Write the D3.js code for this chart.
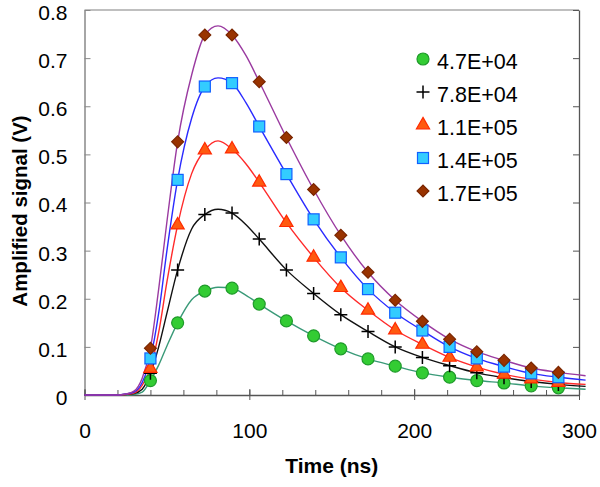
<!DOCTYPE html>
<html>
<head>
<meta charset="utf-8">
<script src="https://cdn.jsdelivr.net/npm/d3@7"></script>
<style>
  body { margin: 0; background: #fff; }
  svg { display: block; font-family: "Liberation Sans", Arial, sans-serif; }
</style>
</head>
<body>
<svg id="chart" width="600" height="487"></svg>
<script>
// time samples (ns) used to trace each curve
var lineTimes = [0, 20, 25, 30, 35, 40, 45, 50, 56.5, 65, 73, 81, 89.5, 98, 106, 122.5, 139, 155.5, 172, 188.5, 205, 221.5, 238, 254.5, 271, 287.5, 304];
// marker positions (ns), subset of lineTimes
var markerTimes = [40, 56.5, 73, 89.5, 106, 122.5, 139, 155.5, 172, 188.5, 205, 221.5, 238, 254.5, 271, 287.5];

var labels = ['4.7E+04', '7.8E+04', '1.1E+05', '1.4E+05', '1.7E+05'];

var sig47 = [0, 0, 0, 0.001, 0.006, 0.030, 0.062, 0.102, 0.150, 0.198, 0.216, 0.224, 0.222, 0.207, 0.189, 0.154, 0.123, 0.096, 0.075, 0.060, 0.046, 0.037, 0.030, 0.025, 0.019, 0.015, 0.012];
var sig78 = [0, 0, 0.001, 0.003, 0.012, 0.045, 0.100, 0.170, 0.260, 0.345, 0.375, 0.386, 0.378, 0.354, 0.324, 0.260, 0.211, 0.167, 0.132, 0.100, 0.078, 0.061, 0.046, 0.036, 0.028, 0.022, 0.018];
var sig11 = [0, 0, 0.001, 0.004, 0.020, 0.055, 0.130, 0.235, 0.353, 0.460, 0.509, 0.528, 0.511, 0.480, 0.442, 0.358, 0.286, 0.223, 0.176, 0.135, 0.105, 0.078, 0.058, 0.043, 0.033, 0.026, 0.022];
var sig14 = [0, 0, 0.002, 0.006, 0.026, 0.076, 0.170, 0.300, 0.447, 0.575, 0.641, 0.659, 0.648, 0.607, 0.558, 0.459, 0.365, 0.286, 0.220, 0.171, 0.134, 0.100, 0.076, 0.059, 0.045, 0.037, 0.031];
var sig17 = [0, 0, 0.002, 0.008, 0.035, 0.097, 0.220, 0.360, 0.526, 0.665, 0.748, 0.767, 0.748, 0.705, 0.651, 0.535, 0.427, 0.332, 0.255, 0.197, 0.153, 0.116, 0.090, 0.072, 0.056, 0.047, 0.040];

var xTicks = [0, 100, 200, 300];
var yTicks = [0, 0.1, 0.2, 0.3, 0.4, 0.5, 0.6, 0.7, 0.8];

var plotLeft = 84.5, plotRight = 579, plotTop = 10, plotBottom = 395;

var series = [
    { name: labels[0], vals: sig47, line: '#3a9a78', fill: '#33cc33', stroke: '#1f9a2a', shape: 'circle' },
    { name: labels[1], vals: sig78, line: '#111', fill: 'none', stroke: '#000', shape: 'plus' },
    { name: labels[2], vals: sig11, line: '#ff2a2a', fill: '#ff5a10', stroke: '#ff2a00', shape: 'triangle' },
    { name: labels[3], vals: sig14, line: '#2a2aff', fill: '#33ccff', stroke: '#1060ff', shape: 'square' },
    { name: labels[4], vals: sig17, line: '#9a3aa0', fill: '#993300', stroke: '#7a2600', shape: 'diamond' }
];

var svg = d3.select('#chart');
var x = d3.scaleLinear().domain([0, 300]).range([plotLeft, plotRight]);
var y = d3.scaleLinear().domain([0, 0.8]).range([plotBottom, plotTop]);

// frame: top border
svg.append('line')
    .attr('x1', plotLeft).attr('x2', plotRight).attr('y1', plotTop).attr('y2', plotTop)
    .attr('stroke', '#aaa').attr('stroke-width', 1.5);

// left axis
let yAxis = svg.append('g')
    .attr('transform', 'translate(' + plotLeft + ',0)')
    .call(d3.axisLeft(y).tickValues(yTicks).tickSizeInner(-6).tickSizeOuter(0).tickPadding(17)
        .tickFormat(d => d === 0 ? '0' : d.toFixed(1)));
yAxis.select('.domain').attr('stroke', '#888').attr('stroke-width', 1.5);
yAxis.selectAll('.tick line').attr('stroke', '#888');
yAxis.selectAll('.tick text').attr('font-size', 21).attr('dy', '0.45em').attr('fill', '#000')
    .attr('font-family', '"Liberation Sans", Arial, sans-serif');

// right axis (no labels)
let rAxis = svg.append('g')
    .attr('transform', 'translate(' + plotRight + ',0)')
    .call(d3.axisRight(y).tickValues(yTicks).tickSizeInner(-6).tickSizeOuter(0).tickFormat(''));
rAxis.select('.domain').attr('stroke', '#555').attr('stroke-width', 1.3);
rAxis.selectAll('.tick line').attr('stroke', '#555');

// bottom axis: minor ticks upward, major crossing
let minor = svg.append('g')
    .attr('transform', 'translate(0,' + plotBottom + ')')
    .call(d3.axisTop(x).tickValues(d3.range(0, 301, 20)).tickSize(5).tickFormat(''));
minor.select('.domain').remove();
minor.selectAll('.tick line').attr('stroke', '#555');

let xAxis = svg.append('g')
    .attr('transform', 'translate(0,' + plotBottom + ')')
    .call(d3.axisBottom(x).tickValues(xTicks).tickSizeInner(5).tickSizeOuter(0).tickPadding(23));
xAxis.select('.domain').attr('stroke', '#555').attr('stroke-width', 1.3);
xAxis.selectAll('.tick line').attr('y1', -6).attr('stroke', '#555');
xAxis.selectAll('.tick text').attr('font-size', 21).attr('fill', '#000')
    .attr('font-family', '"Liberation Sans", Arial, sans-serif');

// axis titles
svg.append('text')
    .attr('x', (plotLeft + plotRight) / 2).attr('y', 473)
    .attr('text-anchor', 'middle').attr('font-size', 21).attr('font-weight', 'bold')
    .text('Time (ns)');
svg.append('text')
    .attr('transform', 'translate(27,' + 211 + ') rotate(-90)')
    .attr('text-anchor', 'middle').attr('font-size', 20.5).attr('font-weight', 'bold')
    .text('Amplified signal (V)');

// curves
let line = d3.line()
    .x(d => x(d[0]))
    .y(d => y(d[1]))
    .curve(d3.curveMonotoneX);

series.forEach(s => {
    let pts = lineTimes.map((t, i) => [t, s.vals[i]]);
    svg.append('path')
        .datum(pts)
        .attr('d', line)
        .attr('fill', 'none')
        .attr('stroke', s.line)
        .attr('stroke-width', 1.4);
});

function drawMarker(g, shape, s) {
    let p;
    if (shape === 'circle') {
        p = g.append('circle').attr('r', 6);
    } else if (shape === 'plus') {
        p = g.append('path').attr('d', 'M-6.5,0H6.5M0,-6.5V6.5');
    } else if (shape === 'triangle') {
        p = g.append('path').attr('d', d3.symbol(d3.symbolTriangle, 75)());
    } else if (shape === 'square') {
        p = g.append('rect').attr('x', -5.5).attr('y', -5.5).attr('width', 11).attr('height', 11);
    } else {
        p = g.append('rect').attr('x', -4.2).attr('y', -4.2).attr('width', 8.4).attr('height', 8.4)
            .attr('transform', 'rotate(45)');
    }
    p.attr('fill', s.fill).attr('stroke', s.stroke).attr('stroke-width', shape === 'plus' ? 1.5 : 1.2);
}

// markers
series.forEach(s => {
    markerTimes.forEach(t => {
        let v = s.vals[lineTimes.indexOf(t)];
        let g = svg.append('g').attr('transform', 'translate(' + x(t) + ',' + y(v) + ')');
        drawMarker(g, s.shape, s);
    });
});

// legend
series.forEach((s, i) => {
    let base = 68.5 + i * 33;
    let g = svg.append('g').attr('transform', 'translate(423,' + (base - 9.5) + ')');
    drawMarker(g, s.shape, s);
    svg.append('text')
        .attr('x', 437).attr('y', base)
        .attr('font-size', 21.5)
        .text(s.name);
});
</script>
</body>
</html>
